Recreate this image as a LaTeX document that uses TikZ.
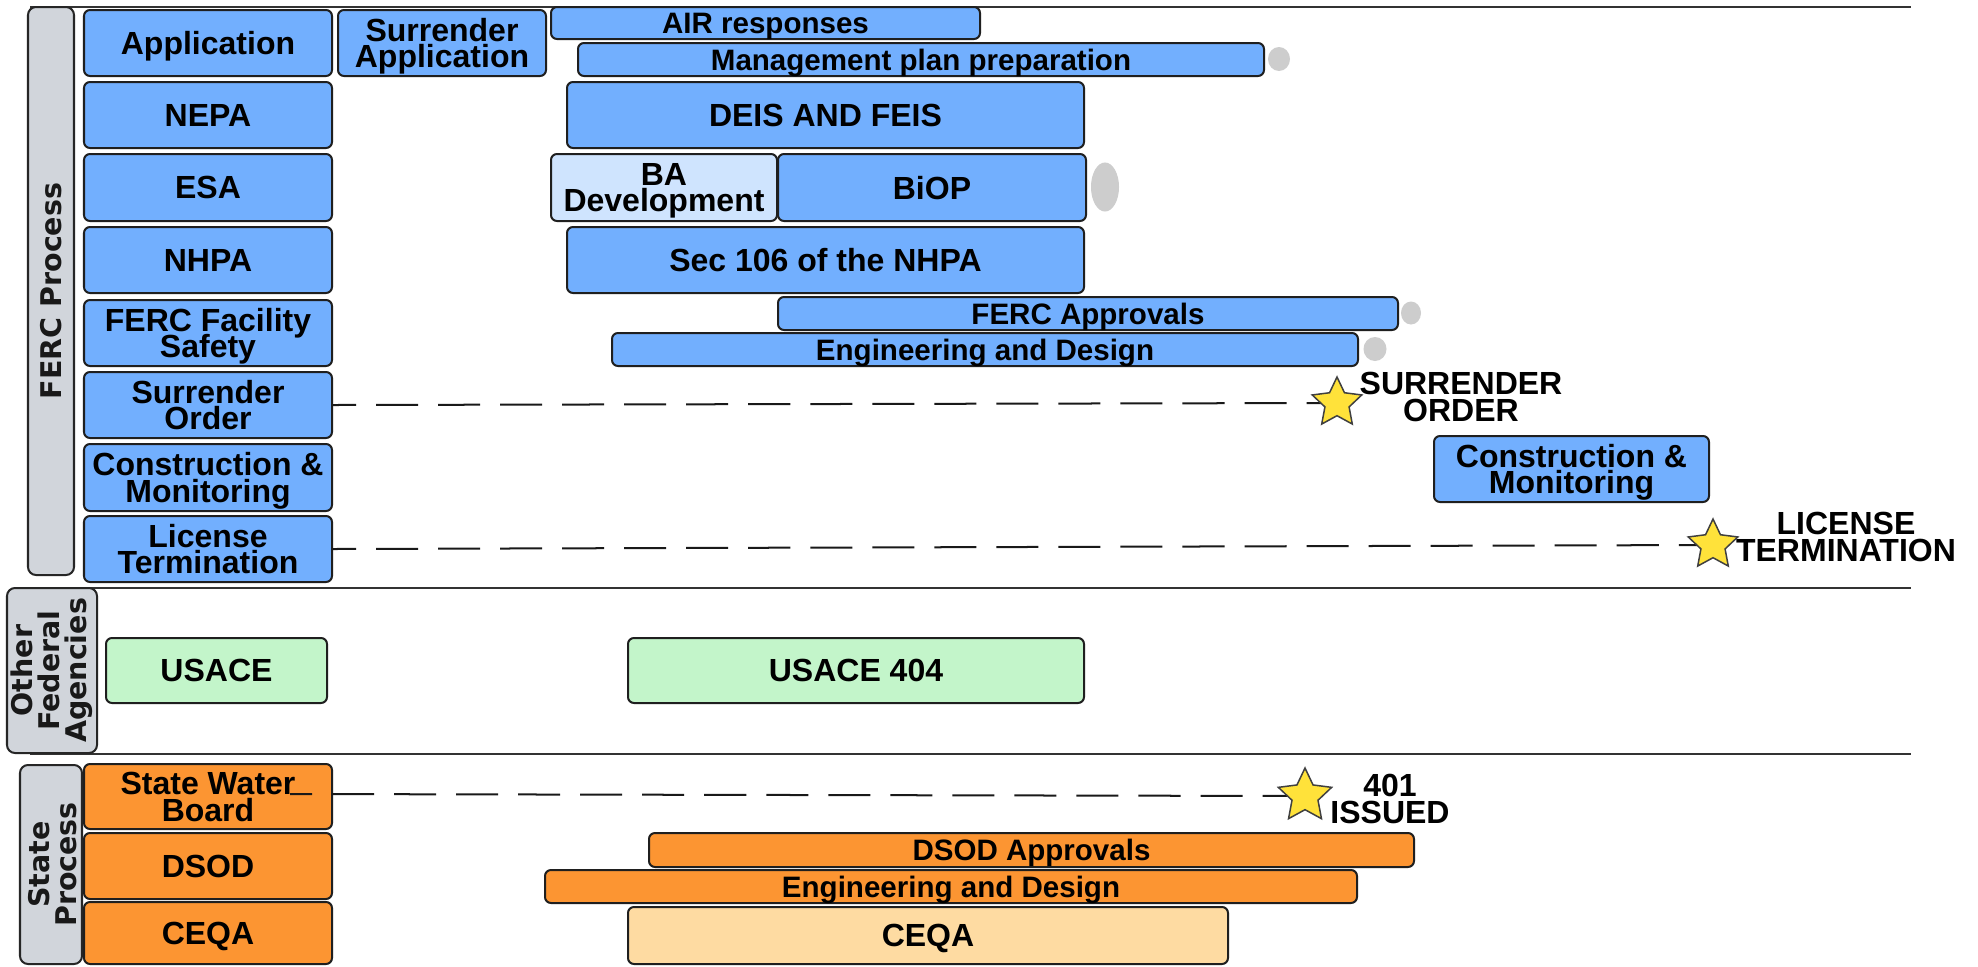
\documentclass[tikz,border=0pt]{standalone}
\usepackage{fontspec}
\setmainfont{Liberation Sans}
\newfontfamily\dejavu{DejaVu Sans}
\usetikzlibrary{shapes.geometric}
\definecolor{boxblue}{HTML}{72AFFE}
\definecolor{boxlblue}{HTML}{CFE4FE}
\definecolor{boxgreen}{HTML}{C3F5CA}
\definecolor{boxorange}{HTML}{FC9532}
\definecolor{boxlorange}{HTML}{FEDBA2}
\definecolor{bargray}{HTML}{D1D5DB}
\definecolor{dotgray}{HTML}{CDCDCD}
\definecolor{staryellow}{HTML}{FFE23A}
\newcommand\tbox[7]{\node[#1, minimum width={(#5-#3)*0.01cm}, minimum height={(#6-#4)*0.01cm}] (#2) at ({(#3+#5)/2},{(#4+#6)/2}) {#7};}
\newcommand\bigfontx{\fontsize{9.1pt}{7.6pt}\selectfont\bfseries\lineskiplimit-8pt\relax}
\newcommand\smallfontx{\fontsize{8.4pt}{7.6pt}\selectfont\bfseries\lineskiplimit-8pt\relax}
\newcommand\groupfontx{\dejavu\fontsize{8.1pt}{7.7pt}\selectfont\bfseries\lineskiplimit-8pt\relax}
\begin{document}
\begin{tikzpicture}[x=0.01cm,y=-0.01cm,
  base/.style={draw=black!88, line width=0.02cm, rounded corners=0.06cm, inner sep=0pt, align=center, text=black, text depth=0pt},
  bluebox/.style={base, fill=boxblue},
  lbluebox/.style={base, fill=boxlblue},
  greenbox/.style={base, fill=boxgreen},
  orangebox/.style={base, fill=boxorange},
  lorangebox/.style={base, fill=boxlorange},
  graybar/.style={draw=black!85, line width=0.02cm, rounded corners=0.08cm, inner sep=0pt, fill=bargray},
  bigf/.style={font=\bigfontx},
  smallf/.style={font=\smallfontx},
  grouplabel/.style={font=\groupfontx, align=center, inner sep=0pt, text=black!90},
  sepline/.style={draw=black!80, line width=0.025cm},
  dashline/.style={draw=black!90, line width=0.02cm, dash pattern=on 0.42cm off 0.2cm},
  dot/.style={ellipse, fill=dotgray, draw=none, inner sep=0pt},
  starshape/.style={star, star points=5, star point ratio=2.05, fill=staryellow, draw=black!75, line width=0.015cm, inner sep=0pt},
  starlabel/.style={bigf, align=center, inner sep=0pt}
]
\useasboundingbox (0,0) rectangle (1978,966);
\fill[white] (0,0) rectangle (1978,966);

% separator lines
\draw[sepline] (30,7) -- (1911,7);
\draw[sepline] (20,588) -- (1911,588);
\draw[sepline] (30,754) -- (1911,754);

% group bars
\tbox{graybar}{fercbar}{28}{7}{74}{575}{}
\node[grouplabel, rotate=90] (fercl) at (fercbar.center) {FERC Process};
\tbox{graybar}{ofabar}{7}{588}{97}{753}{}
\node[grouplabel, rotate=90] (ofal) at (ofabar.center) {Other\\Federal\\Agencies};
\tbox{graybar}{stbar}{20}{765}{82}{964}{}
\node[grouplabel, rotate=90] (stl) at ([xshift=0.02cm]stbar.center) {State\\Process};

% FERC row labels
\tbox{bluebox,bigf}{app}{84}{10}{332}{76}{Application}
\tbox{bluebox,bigf}{nepa}{84}{82}{332}{148}{NEPA}
\tbox{bluebox,bigf}{esa}{84}{154}{332}{221}{ESA}
\tbox{bluebox,bigf}{nhpa}{84}{227}{332}{293}{NHPA}
\tbox{bluebox,bigf}{ffs}{84}{300}{332}{366}{FERC Facility\\Safety}
\tbox{bluebox,bigf}{so}{84}{372}{332}{438}{Surrender\\Order}
\tbox{bluebox,bigf}{cm}{84}{444}{332}{511}{Construction \&\\Monitoring}
\tbox{bluebox,bigf}{lt}{84}{516}{332}{582}{License\\Termination}

% FERC bars
\tbox{bluebox,bigf}{sa}{338}{10}{546}{76}{Surrender\\Application}
\tbox{bluebox,smallf}{air}{551}{7}{980}{39}{AIR responses}
\tbox{bluebox,smallf}{mpp}{578}{43}{1264}{76}{Management plan preparation}
\tbox{bluebox,bigf}{deis}{567}{82}{1084}{148}{DEIS AND FEIS}
\tbox{lbluebox,bigf}{ba}{551}{154}{777}{221}{BA\\Development}
\tbox{bluebox,bigf}{biop}{778}{154}{1086}{221}{BiOP}
\tbox{bluebox,bigf}{sec}{567}{227}{1084}{293}{Sec 106 of the NHPA}
\tbox{bluebox,smallf}{fa}{778}{297}{1398}{330}{FERC Approvals}
\tbox{bluebox,smallf}{fed}{612}{333}{1358}{366}{Engineering and Design}
\tbox{bluebox,bigf}{cm2}{1434}{436}{1709}{502}{Construction \&\\Monitoring}

% gray dots
\node[dot, minimum width=0.22cm, minimum height=0.24cm] (d1) at (1279,59) {};
\node[dot, minimum width=0.28cm, minimum height=0.49cm] (d2) at (1105,187) {};
\node[dot, minimum width=0.2cm, minimum height=0.23cm] (d3) at (1411,313) {};
\node[dot, minimum width=0.23cm, minimum height=0.24cm] (d4) at (1375,349) {};

% other federal agencies
\tbox{greenbox,bigf}{usace}{106}{638}{327}{703}{USACE}
\tbox{greenbox,bigf}{usace404}{628}{638}{1084}{703}{USACE 404}

% state process
\tbox{orangebox,bigf}{swb}{84}{764}{332}{829}{State Water\\Board}
\tbox{orangebox,bigf}{dsod}{84}{833}{332}{899}{DSOD}
\tbox{orangebox,bigf}{ceqa}{84}{902}{332}{964}{CEQA}
\tbox{orangebox,smallf}{dsoda}{649}{833}{1414}{867}{DSOD Approvals}
\tbox{orangebox,smallf}{sed}{545}{870}{1357}{903}{Engineering and Design}
\tbox{lorangebox,bigf}{ceqa2}{628}{907}{1228}{964}{CEQA}

% milestones
\coordinate (s1c) at (1337,403);
\coordinate (s2c) at (1713,545);
\coordinate (s3c) at (1305,796);
\coordinate (swstart) at (290,794);
\draw[dashline, dash phase=0.19cm] (so.east) -- (s1c);
\draw[dashline, dash phase=0.19cm] (lt.east) -- (s2c);
\draw[dashline, dash phase=0.2cm] (swstart) -- (s3c);
\node[starshape, minimum size=0.52cm] (s1) at (s1c) {};
\node[starshape, minimum size=0.52cm] (s2) at (s2c) {};
\node[starshape, minimum size=0.56cm] (s3) at (s3c) {};

\node[starlabel] (s1l) at (1461,397) {SURRENDER\\ORDER};
\node[starlabel] (s2l) at (1846,537) {LICENSE\\TERMINATION};
\node[starlabel] (s3l) at (1390,799) {401\\ISSUED};
\end{tikzpicture}
\end{document}
